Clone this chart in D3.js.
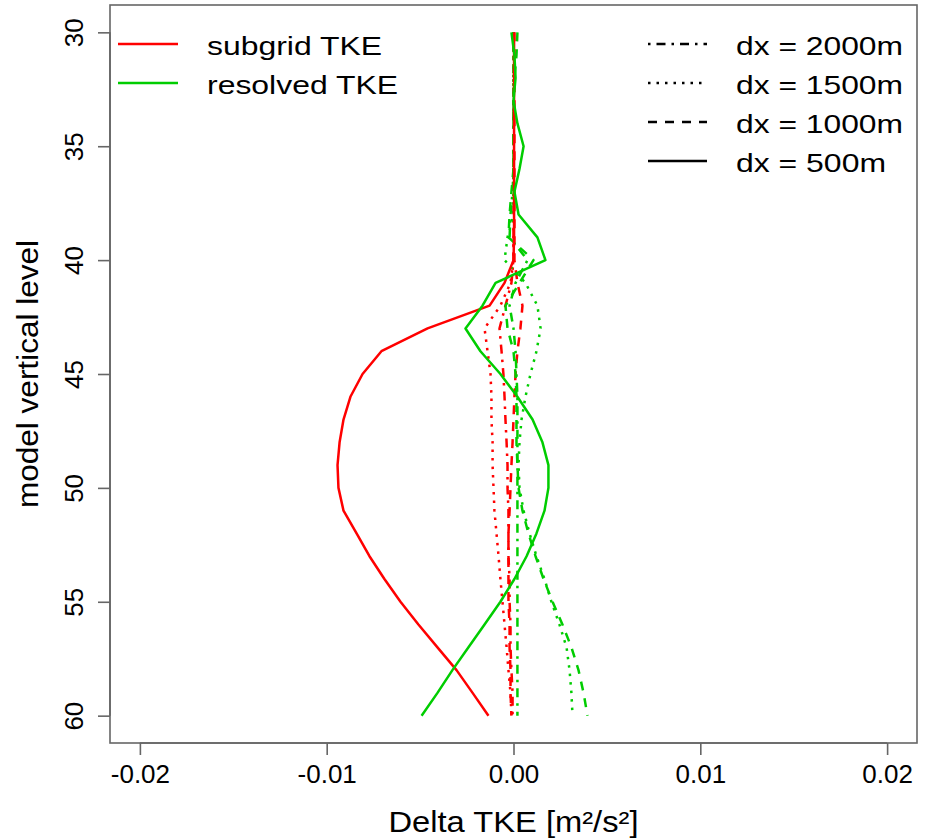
<!DOCTYPE html>
<html>
<head>
<meta charset="utf-8">
<script src="https://cdn.jsdelivr.net/npm/d3@7"></script>
<style>
  html, body { margin: 0; padding: 0; background: #fff; }
  svg { display: block; }
  text { font-family: "Liberation Sans", Arial, Helvetica, sans-serif; fill: #000; }
</style>
</head>
<body>
<svg id="chart" width="930" height="840"></svg>
<script>
// ---------------- data ----------------
const levels = d3.range(30, 61); // model vertical levels 30..60

// subgrid TKE (red)
const subgrid500  = [0.00003,0.00003,0.00003,0.00003,0.00003,0.00003,0.00003,0.00003,0.00003,0.00003,0.0,
  -0.00048,-0.00128,-0.00460,-0.00707,-0.00808,-0.00873,-0.00910,-0.00931,-0.00942,-0.00937,
  -0.00910,-0.00840,-0.00771,-0.00691,-0.00605,-0.00509,-0.00407,-0.00305,-0.00219,-0.00134];
const subgrid1000 = [0.00005,0.00005,0.00005,0.00005,0.00005,0.00005,0.00005,0.00005,0.00005,0.00005,0.00005,
  0.00021,0.00048,0.00037,0.00021,0.00011,0.00005,0.0,-0.00005,-0.00011,-0.00016,
  -0.00021,-0.00027,-0.00027,-0.00027,-0.00027,-0.00021,-0.00021,-0.00016,-0.00016,-0.00011];
const subgrid1500 = [0,0,0,0,0,0,0,0,0,0,0,
  -0.00016,-0.00070,-0.00155,-0.00139,-0.00123,-0.00118,-0.00118,-0.00112,-0.00112,-0.00107,
  -0.00102,-0.00091,-0.00080,-0.00070,-0.00059,-0.00048,-0.00037,-0.00027,-0.00016,-0.00011];
const subgrid2000 = [0,0,0,0,0,0,0,0,0,0,0,
  -0.00011,-0.00043,-0.00075,-0.00064,-0.00054,-0.00048,-0.00043,-0.00037,-0.00032,-0.00032,
  -0.00027,-0.00027,-0.00027,-0.00021,-0.00021,-0.00016,-0.00016,-0.00011,-0.00005,-0.00005];

// resolved TKE (green)
const resolved500  = [-0.00011,0.00005,0.00011,0.0,0.00021,0.00054,0.00032,0.00005,0.00027,0.00128,0.00171,
  -0.00096,-0.00166,-0.00257,-0.00177,-0.00070,0.00021,0.00102,0.00155,0.00187,0.00187,
  0.00166,0.00123,0.00070,0.00005,-0.00070,-0.00155,-0.00241,-0.00327,-0.00407,-0.00492];
const resolved1000 = [0.00021,0.00016,0.00005,0,0,0,0,-0.00011,-0.00021,-0.00027,0.00107,
  0.00032,-0.00043,-0.00032,0.0,0.00011,0.00016,0.00016,0.00016,0.00021,0.00027,
  0.00048,0.00080,0.00118,0.00161,0.00209,0.00262,0.00310,0.00348,0.00375,0.00396];
const resolved1500 = [0,0,0,0,0,0,0,0,0,-0.00032,-0.00048,
  0.00064,0.00128,0.00145,0.00123,0.00091,0.00064,0.00043,0.00032,0.00027,0.00032,
  0.00054,0.00086,0.00123,0.00166,0.00203,0.00246,0.00284,0.00300,0.00310,0.00316];
const resolved2000 = [0,0,0,0,0,0,0,-0.00005,-0.00016,-0.00021,0.00075,
  0.00011,-0.00021,0.0,0.00011,0.00016,0.00021,0.00021,0.00021,0.00021,0.00021,
  0.00021,0.00021,0.00021,0.00021,0.00021,0.00021,0.00021,0.00021,0.00021,0.00021];

const xTicks = [-0.02, -0.01, 0.00, 0.01, 0.02];
const xTickLabels = ["-0.02", "-0.01", "0.00", "0.01", "0.02"];
const yTicks = [30, 35, 40, 45, 50, 55, 60];
const yTickLabels = ["30", "35", "40", "45", "50", "55", "60"];

const resolutions = ["dx = 2000m", "dx = 1500m", "dx = 1000m", "dx = 500m"];
const quantities = ["subgrid TKE", "resolved TKE"];
const xLabel = "Delta TKE [m\u00B2/s\u00B2]";
const yLabel = "model vertical level";

// ---------------- styles ----------------
const RED = "#ff0000", GREEN = "#00cd00";
const dashes = { "dx = 2000m": "2.5,6,9,6", "dx = 1500m": "2.5,6", "dx = 1000m": "9,8", "dx = 500m": null };

const series = [
  { q: 0, res: "dx = 2000m", values: subgrid2000 },
  { q: 0, res: "dx = 1500m", values: subgrid1500 },
  { q: 0, res: "dx = 1000m", values: subgrid1000 },
  { q: 1, res: "dx = 2000m", values: resolved2000 },
  { q: 1, res: "dx = 1500m", values: resolved1500 },
  { q: 1, res: "dx = 1000m", values: resolved1000 },
  { q: 0, res: "dx = 500m",  values: subgrid500 },
  { q: 1, res: "dx = 500m",  values: resolved500 },
];

// ---------------- layout ----------------
const svg = d3.select("#chart");
const L = 110, R = 917, T = 5, B = 743;
const x = d3.scaleLinear().domain([-0.0216, 0.0216]).range([L, R]);
const y = d3.scaleLinear().domain([28.8, 61.2]).range([T, B]);

function fitText(sel, w) {
  sel.each(function () {
    this.setAttribute("textLength", w);
    this.setAttribute("lengthAdjust", "spacingAndGlyphs");
  });
  return sel;
}

// data lines
const line = d3.line().x(d => x(d[1])).y(d => y(d[0]));
const gLines = svg.append("g");
series.forEach(s => {
  gLines.append("path")
    .attr("d", line(levels.map((lv, i) => [lv, s.values[i]])))
    .attr("fill", "none")
    .attr("stroke", s.q === 0 ? RED : GREEN)
    .attr("stroke-width", 2.5)
    .attr("stroke-dasharray", dashes[s.res])
    .attr("stroke-linejoin", "round");
});

// box
svg.append("rect")
  .attr("x", L).attr("y", T).attr("width", R - L).attr("height", B - T)
  .attr("fill", "none").attr("stroke", "#666").attr("stroke-width", 1.6);

// x axis
const xAxis = d3.axisBottom(x).tickValues(xTicks)
  .tickFormat((d, i) => xTickLabels[i]).tickSize(12).tickSizeOuter(0);
const gx = svg.append("g").attr("transform", `translate(0,${B})`).call(xAxis);
gx.select(".domain").attr("d", `M${x(xTicks[0])},0H${x(xTicks[xTicks.length - 1])}`)
  .attr("stroke", "#666").attr("stroke-width", 1.6);
gx.selectAll(".tick line").attr("stroke", "#666").attr("stroke-width", 1.6);
gx.selectAll(".tick text")
  .attr("font-size", 26).attr("font-family", "Liberation Sans, Arial, sans-serif")
  .attr("fill", "#000").attr("y", 22).attr("dy", "0.71em");

// y axis
const yAxis = d3.axisLeft(y).tickValues(yTicks)
  .tickFormat((d, i) => yTickLabels[i]).tickSize(12).tickSizeOuter(0);
const gy = svg.append("g").attr("transform", `translate(${L},0)`).call(yAxis);
gy.select(".domain").attr("d", `M0,${y(yTicks[0])}V${y(yTicks[yTicks.length - 1])}`)
  .attr("stroke", "#666").attr("stroke-width", 1.6);
gy.selectAll(".tick line").attr("stroke", "#666").attr("stroke-width", 1.6);
gy.selectAll(".tick text")
  .attr("font-size", 26).attr("font-family", "Liberation Sans, Arial, sans-serif")
  .attr("fill", "#000")
  .attr("x", null).attr("dy", null)
  .attr("text-anchor", "middle")
  .attr("transform", "translate(-27,0) rotate(-90)");

// axis titles
fitText(svg.append("text")
  .attr("x", (L + R) / 2).attr("y", 832)
  .attr("text-anchor", "middle").attr("font-size", 29)
  .text(xLabel), 250);
fitText(svg.append("text")
  .attr("transform", `translate(38,${(T + B) / 2}) rotate(-90)`)
  .attr("text-anchor", "middle").attr("font-size", 29)
  .text(yLabel), 268);

// legend: quantities
const rowY = [44, 83, 122, 161];
const qWidths = [175, 191];
quantities.forEach((q, i) => {
  svg.append("line")
    .attr("x1", 118).attr("x2", 178).attr("y1", rowY[i]).attr("y2", rowY[i])
    .attr("stroke", i === 0 ? RED : GREEN).attr("stroke-width", 2.5);
  fitText(svg.append("text")
    .attr("x", 207).attr("y", rowY[i] + 11).attr("font-size", 26).text(q), qWidths[i]);
});

// legend: resolutions
const rWidths = [167, 167, 167, 150];
resolutions.forEach((r, i) => {
  svg.append("line")
    .attr("x1", 648).attr("x2", 707).attr("y1", rowY[i]).attr("y2", rowY[i])
    .attr("stroke", "#000").attr("stroke-width", 2.5)
    .attr("stroke-dasharray", dashes[r]);
  fitText(svg.append("text")
    .attr("x", 736).attr("y", rowY[i] + 11).attr("font-size", 26).text(r), rWidths[i]);
});
</script>
</body>
</html>
